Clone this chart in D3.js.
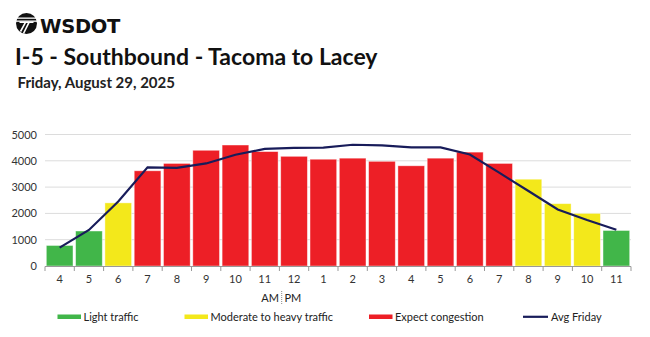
<!DOCTYPE html>
<html><head><meta charset="utf-8">
<script src="https://cdn.jsdelivr.net/npm/d3@7"></script>
<style>body{margin:0;background:#fff;} svg{display:block;font-family:Lato,"Open Sans",sans-serif;}</style>
</head><body>
<svg id="c" width="650" height="337"></svg>
<script>
const hours = ["4","5","6","7","8","9","10","11","12","1","2","3","4","5","6","7","8","9","10","11"];
const volumes = [780,1330,2400,3620,3900,4400,4600,4350,4170,4060,4100,3980,3810,4100,4330,3900,3300,2370,2000,1350];
const levels = ["light","light","moderate","heavy","heavy","heavy","heavy","heavy","heavy","heavy","heavy","heavy","heavy","heavy","heavy","heavy","moderate","moderate","moderate","light"];
const avgFriday = [700,1370,2450,3750,3730,3900,4230,4450,4490,4500,4610,4590,4510,4510,4240,3550,2850,2150,1750,1380];
const yTicks = [0,1000,2000,3000,4000,5000];
const legendLabels = ["Light traffic","Moderate to heavy traffic","Expect congestion","Avg Friday"];
const title = "I-5 - Southbound - Tacoma to Lacey";
const subtitle = "Friday, August 29, 2025";

const colors = {light:"#41b649", moderate:"#f3e81b", heavy:"#ed1f26", line:"#181c5a"};
const svg = d3.select("#c");
const idx = hours.map((h,i)=>i);
const x = d3.scaleBand().domain(idx).range([45,631]).paddingInner(0.09).paddingOuter(0.045);
const y = d3.scaleLinear().domain([0,5000]).range([266,134.5]);

// logo
const logo = svg.append("g").attr("transform","translate(26.5,23.5)");
logo.append("circle").attr("r",10.5).attr("fill","#111");
[-6,-3].forEach(dy=>logo.append("rect").attr("x",-11).attr("y",dy).attr("width",22).attr("height",1.3).attr("fill","#fff"));
logo.append("path").attr("d","M-7,-1.2 L7,-1.2 M2.5,-1.2 L-3,10 M-1,-1.2 L-6,8").attr("stroke","#fff").attr("stroke-width",1.6).attr("fill","none");
svg.append("text").attr("x",40).attr("y",33).attr("font-size",19.5).attr("font-weight",900).attr("fill","#111").attr("font-family","'DejaVu Sans',Lato,sans-serif").attr("letter-spacing",-0.3).text("WSDOT");

svg.append("text").attr("x",15).attr("y",65).attr("font-size",23).attr("font-weight",700).attr("fill","#111").text(title);
svg.append("text").attr("x",17.5).attr("y",88).attr("font-size",15).attr("font-weight",700).attr("fill","#222").text(subtitle);

// grid
svg.append("g").selectAll("line").data(yTicks.filter(d=>d>0)).join("line")
  .attr("x1",45).attr("x2",631).attr("y1",d=>y(d)).attr("y2",d=>y(d)).attr("stroke","#dcdcdc").attr("stroke-width",1);
svg.append("g").selectAll("text").data(yTicks).join("text")
  .attr("x",37).attr("y",d=>y(d)+4).attr("text-anchor","end").attr("font-size",11).attr("fill","#333").text(d=>d);

// bars
svg.append("g").selectAll("rect").data(idx).join("rect")
  .attr("x",i=>x(i)).attr("width",x.bandwidth()).attr("y",i=>y(volumes[i])).attr("height",i=>y(0)-y(volumes[i]))
  .attr("fill",i=>colors[levels[i]]).attr("stroke","#fff").attr("stroke-opacity",0.5).attr("stroke-width",0.8);

// x axis
const xa = svg.append("g");
xa.append("line").attr("x1",45).attr("x2",631).attr("y1",266.5).attr("y2",266.5).attr("stroke","#999");
const step = x.step();
const edges = d3.range(hours.length+1).map(k=>x(0)-x.step()*x.paddingInner()/2 + k*step);
xa.selectAll("line.t").data(edges).join("line").attr("class","t")
  .attr("x1",d=>d).attr("x2",d=>d).attr("y1",266.5).attr("y2",271).attr("stroke","#999");
xa.selectAll("text").data(idx).join("text")
  .attr("x",i=>x(i)+x.bandwidth()/2).attr("y",283).attr("text-anchor","middle").attr("font-size",11).attr("fill","#333").text(i=>hours[i]);

// line
const line = d3.line().x((d,i)=>x(i)+x.bandwidth()/2).y(d=>y(d));
svg.append("path").datum(avgFriday).attr("d",line).attr("fill","none").attr("stroke",colors.line).attr("stroke-width",2.2);

// AM | PM
svg.append("text").attr("x",279).attr("y",302).attr("text-anchor","end").attr("font-size",11).attr("fill","#222").text("AM");
svg.append("line").attr("x1",281.7).attr("x2",281.7).attr("y1",291).attr("y2",304).attr("stroke","#888").attr("stroke-dasharray","1,1");
svg.append("text").attr("x",284.5).attr("y",302).attr("font-size",11).attr("fill","#222").text("PM");

// legend
const legItems = [
  {c:colors.light, x:57.5, type:"rect"},
  {c:colors.moderate, x:184.5, type:"rect"},
  {c:colors.heavy, x:369, type:"rect"},
  {c:colors.line, x:523, type:"line"}
];
const lg = svg.append("g");
legItems.forEach((d,i)=>{
  if(d.type==="rect") lg.append("rect").attr("x",d.x).attr("y",314.5).attr("width",23.5).attr("height",4.5).attr("fill",d.c);
  else lg.append("rect").attr("x",d.x).attr("y",315.7).attr("width",25).attr("height",2.2).attr("fill",d.c);
  lg.append("text").attr("x",d.x+(d.type==="rect"?26:28)).attr("y",320.5).attr("font-size",11).attr("fill","#222").text(legendLabels[i]);
});
</script>
</body></html>
